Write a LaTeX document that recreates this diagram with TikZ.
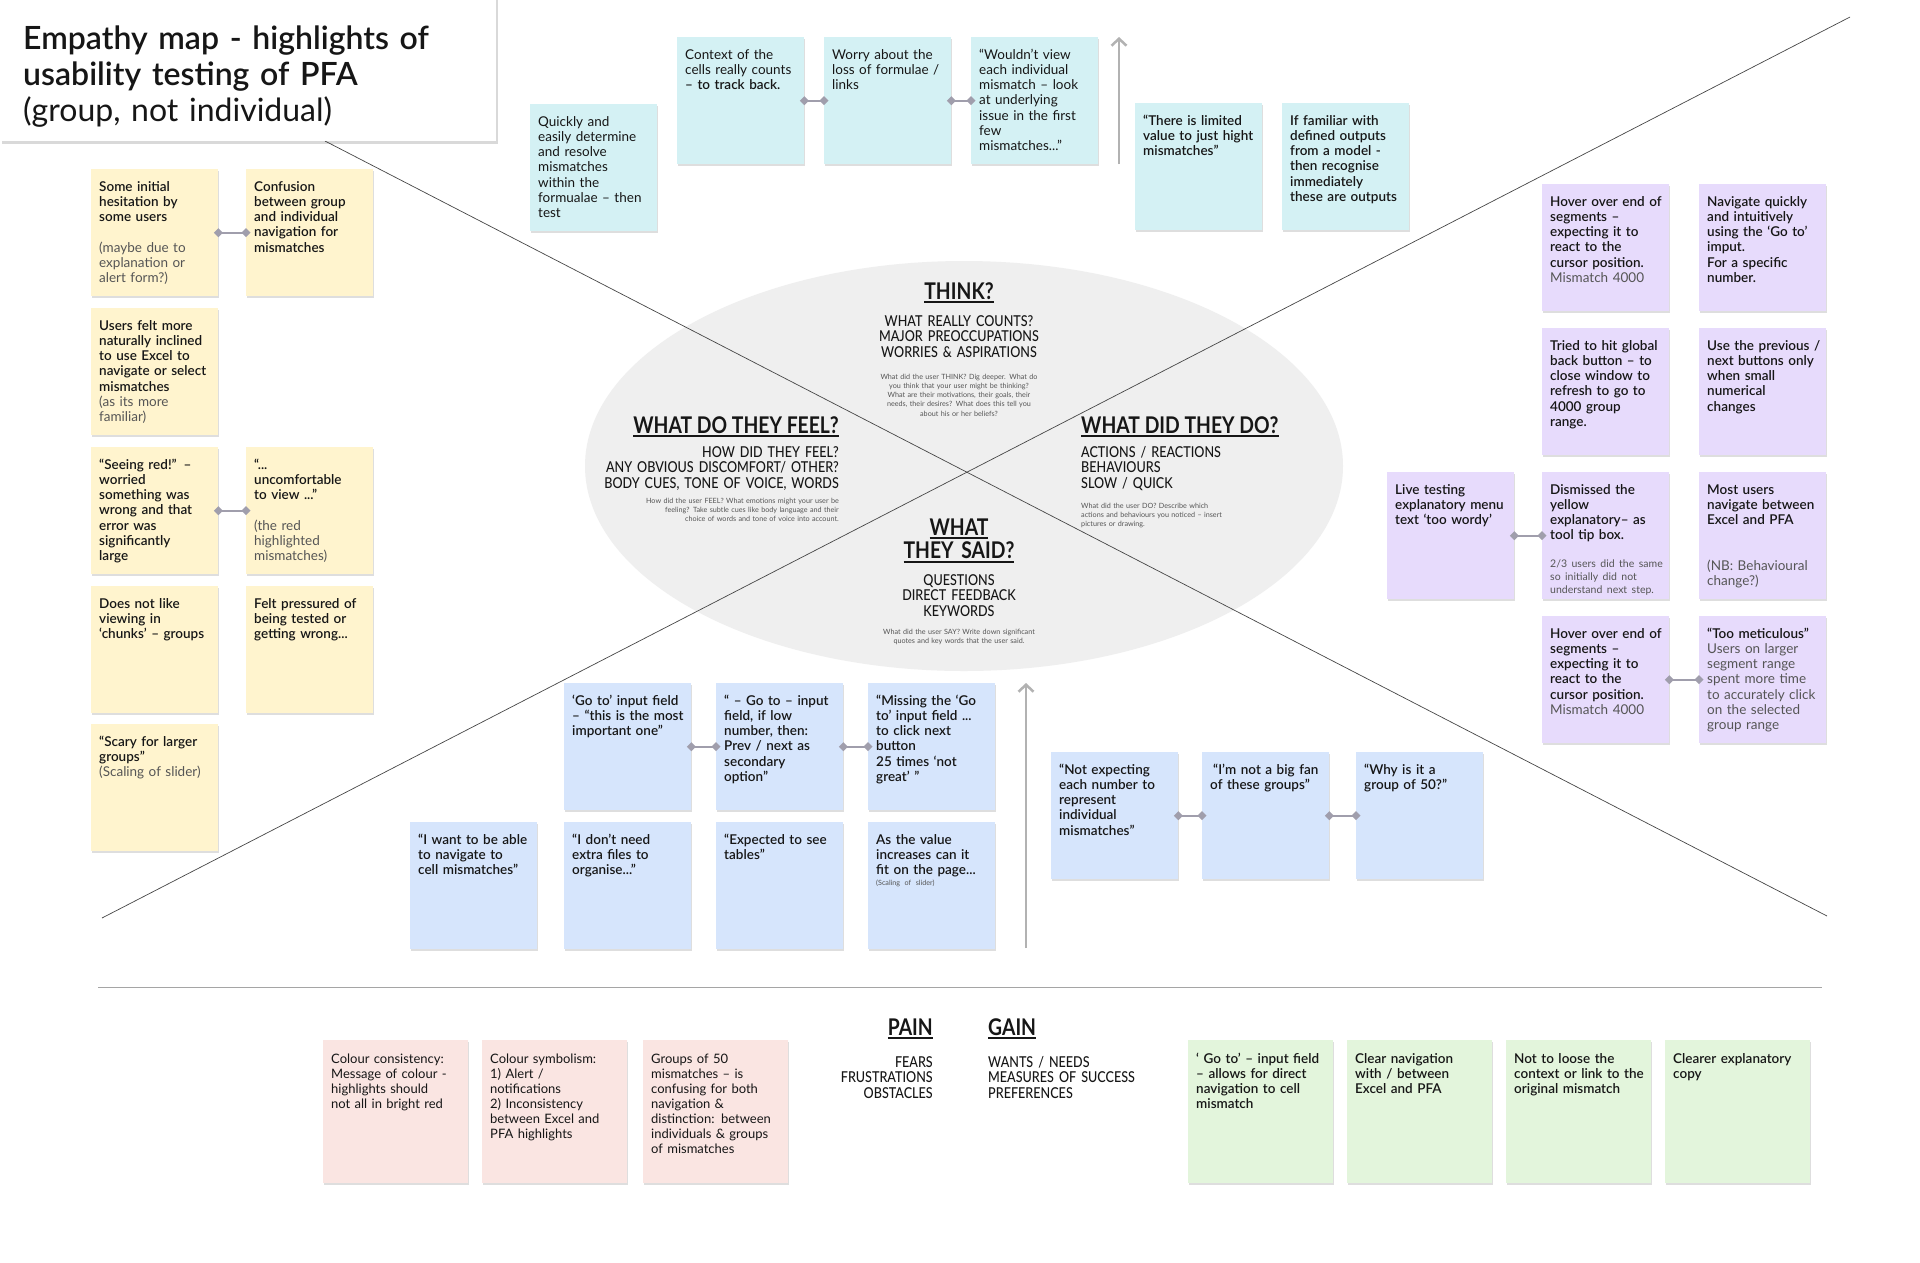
\documentclass[tikz,border=0pt]{standalone}
\usepackage{fontspec}
\IfFontExistsTF{Lato Semibold}
  {\setmainfont{Lato}[BoldFont={Lato Semibold}]}
  {\setmainfont{Lato}}
\newfontfamily\condfont{Lato}[FakeStretch=0.84]
\IfFontExistsTF{Lato Medium}
  {\newfontfamily\condmed{Lato Medium}[FakeStretch=0.84]}
  {\let\condmed\condfont}
\usepackage{xcolor}
\definecolor{mapYellow}{RGB}{255,244,206}
\definecolor{mapCyan}{RGB}{212,241,244}
\definecolor{mapPurple}{RGB}{231,219,252}
\definecolor{mapBlue}{RGB}{214,229,252}
\definecolor{mapPink}{RGB}{250,229,226}
\definecolor{mapGreen}{RGB}{227,245,220}
\definecolor{mapHub}{RGB}{239,239,239}
\definecolor{mapLink}{RGB}{160,158,172}
\definecolor{mapArrow}{RGB}{178,178,178}
\definecolor{mapAxis}{RGB}{70,70,70}
\definecolor{mapRule}{RGB}{165,165,165}
\definecolor{mapInk}{RGB}{22,22,22}
\definecolor{mapInk2}{RGB}{85,85,85}
\usepackage{tikz}
\usetikzlibrary{positioning,shapes.geometric,arrows.meta,shadows}
\newcommand\stkfont{\fontsize{13.5}{15.2}\selectfont}
\newcommand\lite[1]{{\mdseries\color{mapInk2}#1}}
\newcommand\smallnote[2]{\par\vspace{#1}{\fontsize{10.5}{12.8}\selectfont\mdseries\color{mapInk2}\parfillskip=0pt plus 1fil #2\par}}
\newcommand\tinynote[2]{\par\vspace{#1}{\fontsize{7.2}{9}\selectfont\mdseries\color{mapInk2}\mbox{#2}\par}}
\newcommand\hdul[1]{\leavevmode\setbox0\hbox{#1}\rlap{\rule[-4pt]{\wd0}{1.8pt}}\box0}
\tikzset{
  sticky/.style={rectangle,anchor=north west,fill=#1,inner sep=8pt,
    text width=111pt,text height=14pt,text depth=97pt,align=left,
    text=mapInk,font=\stkfont\bfseries,
    execute at begin node={\rightskip=-14pt plus 1fil\relax},
    drop shadow={shadow xshift=0.6pt,shadow yshift=-2.2pt,fill=black,opacity=0.13}},
  plainsticky/.style={sticky=#1,font=\stkfont},
  widesticky/.style={sticky=#1,text width=129pt,text height=15pt,text depth=112pt},
  plainwidesticky/.style={widesticky=#1,font=\fontsize{13}{15}\selectfont},
  link/.style={draw=mapLink,line width=2pt,
    {Turned Square[length=9pt,width=9pt]}-{Turned Square[length=9pt,width=9pt]},
    shorten <=-4.5pt,shorten >=-4.5pt},
  uparrow/.style={draw=mapArrow,line width=2.5pt,-{Straight Barb[length=7pt,width=15pt]}},
  axis/.style={draw=mapAxis,line width=0.7pt},
  hub/.style={ellipse,fill=mapHub,minimum width=758pt,minimum height=410pt,inner sep=0pt},
  head/.style={inner sep=0pt,text=mapInk,font=\condfont\bfseries\fontsize{23}{23.5}\selectfont},
  subhead/.style={inner sep=0pt,text=mapInk,font=\condmed\fontsize{15}{15.5}\selectfont},
  hint/.style={inner sep=0pt,text=mapInk2,font=\fontsize{7.2}{9.3}\selectfont}
}
\begin{document}
\begin{tikzpicture}[x=1pt,y=-1pt]
  \fill[white] (0,0) rectangle (1920,1262);
  \useasboundingbox (0,0) rectangle (1920,1262);

  % map background and axes
  \node[hub] (hub) at (964,466) {};
  \coordinate (nwEnd) at (325,141);
  \coordinate (seEnd) at (1827,916);
  \coordinate (swEnd) at (102,918);
  \coordinate (neEnd) at (1850,17);
  \draw[axis] (nwEnd) -- (seEnd);
  \draw[axis] (swEnd) -- (neEnd);
  \coordinate (ruleL) at (98,987);
  \coordinate (ruleR) at (1822,987);
  \draw[draw=mapRule,line width=0.8pt] (ruleL) -- (ruleR);

  % title
  \fill[white,drop shadow={shadow xshift=1.5pt,shadow yshift=-2.5pt,fill=black,opacity=0.15}]
    (0,-20) rectangle (496,141);
  \node[anchor=base west,inner sep=0pt,text width=470pt,align=left,text=mapInk,
    font=\fontsize{32}{36}\selectfont\bfseries] (title) at (23,49)
    {Empathy map - highlights of\\usability testing of PFA\\\mdseries(group, not individual)};

  % quadrant labels
  \node[head,anchor=base] (thinkHd) at (959,299) {\hdul{THINK?}};
  \node[subhead,anchor=base,text width=240pt,align=center] (thinkSub) at (959,326)
    {WHAT REALLY COUNTS?\\MAJOR PREOCCUPATIONS\\WORRIES \& ASPIRATIONS};
  \node[hint,anchor=base,text width=200pt,align=center] (thinkHint) at (959,379)
    {What did the user THINK? Dig deeper. What do\\you think that your user might be thinking?\\What are their motivations, their goals, their\\needs, their desires? What does this tell you\\about his or her beliefs?};
  \node[head,anchor=base east] (feelHd) at (839,433) {\hdul{WHAT DO THEY FEEL?}};
  \node[subhead,anchor=base east,text width=280pt,align=right] (feelSub) at (839,457)
    {HOW DID THEY FEEL?\\ANY OBVIOUS DISCOMFORT/ OTHER?\\BODY CUES, TONE OF VOICE, WORDS};
  \node[hint,anchor=base east,text width=240pt,align=right] (feelHint) at (839,503)
    {How did the user FEEL? What emotions might your user be\\feeling? Take subtle cues like body language and their\\choice of words and tone of voice into account.};
  \node[head,anchor=base west] (doHd) at (1081,433) {\hdul{WHAT DID THEY DO?}};
  \node[subhead,anchor=base west,text width=200pt,align=left] (doSub) at (1081,457)
    {ACTIONS / REACTIONS\\BEHAVIOURS\\SLOW / QUICK};
  \node[hint,anchor=base west,text width=200pt,align=left] (doHint) at (1081,508)
    {What did the user DO? Describe which\\actions and behaviours you noticed – insert\\pictures or drawing.};
  \node[head,anchor=base,text width=200pt,align=center] (saidHd) at (959,535)
    {\hdul{WHAT}\\\hdul{THEY SAID?}};
  \node[subhead,anchor=base,text width=200pt,align=center] (saidSub) at (959,585)
    {QUESTIONS\\DIRECT FEEDBACK\\KEYWORDS};
  \node[hint,anchor=base,text width=200pt,align=center] (saidHint) at (959,634)
    {What did the user SAY? Write down significant\\quotes and key words that the user said.};

  % feel
  \node[sticky=mapYellow] (y1) at (91,169)
    {Some initial\\hesitation by\\some users\\[15.2pt]\lite{(maybe due to\\explanation or\\alert form?)}};
  \node[sticky=mapYellow] (y2) at (246,169)
    {Confusion\\between group\\and individual\\navigation for\\mismatches};
  \node[sticky=mapYellow] (y3) at (91,308)
    {Users felt more\\naturally inclined\\to use Excel to\\navigate or select\\mismatches\\\lite{(as its more\\familiar)}};
  \node[sticky=mapYellow] (y4) at (91,447)
    {“Seeing red!” –\\worried\\something was\\wrong and that\\error was\\significantly\\large};
  \node[sticky=mapYellow] (y5) at (246,447)
    {“...\\uncomfortable\\to view ...”\\[15.2pt]\lite{(the red\\highlighted\\mismatches)}};
  \node[sticky=mapYellow] (y6) at (91,586)
    {Does not like\\viewing in\\‘chunks’ – groups};
  \node[sticky=mapYellow] (y7) at (246,586)
    {Felt pressured of\\being tested or\\getting wrong...};
  \node[sticky=mapYellow] (y8) at (91,724)
    {“Scary for larger\\groups”\\\lite{(Scaling of slider)}};

  % think
  \node[plainsticky=mapCyan] (c1) at (530,104)
    {Quickly and\\easily determine\\and resolve\\mismatches\\within the\\formualae – then\\test};
  \node[plainsticky=mapCyan] (c2) at (677,37)
    {Context of the\\cells really counts\\\textbf{– to track back.}};
  \node[plainsticky=mapCyan] (c3) at (824,37)
    {Worry about the\\loss of formulae /\\links};
  \node[plainsticky=mapCyan] (c4) at (971,37)
    {“Wouldn’t view\\each individual\\mismatch – look\\at underlying\\issue in the first\\few\\mismatches...”};
  \node[sticky=mapCyan] (c5) at (1135,103)
    {“There is limited\\value to just hight\\mismatches”};
  \node[sticky=mapCyan] (c6) at (1282,103)
    {If familiar with\\defined outputs\\from a model -\\then recognise\\immediately\\these are outputs};

  % do
  \node[sticky=mapPurple] (p1) at (1542,184)
    {Hover over end of\\segments –\\expecting it to\\react to the\\cursor position.\\\lite{Mismatch 4000}};
  \node[sticky=mapPurple] (p2) at (1699,184)
    {Navigate quickly\\and intuitively\\using the ‘Go to’\\imput.\\For a specific\\number.};
  \node[sticky=mapPurple] (p3) at (1542,328)
    {Tried to hit global\\back button – to\\close window to\\refresh to go to\\4000 group\\range.};
  \node[sticky=mapPurple] (p4) at (1699,328)
    {Use the previous /\\next buttons only\\when small\\numerical\\changes};
  \node[sticky=mapPurple] (p5) at (1387,472)
    {Live testing\\explanatory menu\\text ‘too wordy’};
  \node[sticky=mapPurple] (p6) at (1542,472)
    {Dismissed the\\yellow\\explanatory– as\\tool tip box.\smallnote{15pt}{2/3 users did the same\\so initially did not\\understand next step.}};
  \node[sticky=mapPurple] (p7) at (1699,472)
    {Most users\\navigate between\\Excel and PFA\\[30.4pt]\lite{(NB: Behavioural\\change?)}};
  \node[sticky=mapPurple] (p8) at (1542,616)
    {Hover over end of\\segments –\\expecting it to\\react to the\\cursor position.\\\lite{Mismatch 4000}};
  \node[sticky=mapPurple] (p9) at (1699,616)
    {“Too meticulous”\\\lite{Users on larger\\segment range\\spent more time\\to accurately click\\on the selected\\group range}};

  % said
  \node[sticky=mapBlue] (b1) at (564,683)
    {‘Go to’ input field\\– “this is the most\\important one”};
  \node[sticky=mapBlue] (b2) at (716,683)
    {“ – Go to – input\\field, if low\\number, then:\\Prev / next as\\secondary\\option”};
  \node[sticky=mapBlue] (b3) at (868,683)
    {“Missing the ‘Go\\to’ input field ...\\to click next\\button\\25 times ‘not\\great’ ”};
  \node[sticky=mapBlue] (b4) at (410,822)
    {“I want to be able\\to navigate to\\cell mismatches”};
  \node[sticky=mapBlue] (b5) at (564,822)
    {“I don’t need\\extra files to\\organise...”};
  \node[sticky=mapBlue] (b6) at (716,822)
    {“Expected to see\\tables”};
  \node[sticky=mapBlue] (b7) at (868,822)
    {As the value\\increases can it\\fit on the page...\tinynote{2pt}{(Scaling of slider)}};
  \node[sticky=mapBlue] (b8) at (1051,752)
    {“Not expecting\\each number to\\represent\\individual\\mismatches”};
  \node[sticky=mapBlue] (b9) at (1202,752)
    {\hspace*{3pt}“I’m not a big fan\\of these groups”};
  \node[sticky=mapBlue] (b10) at (1356,752)
    {“Why is it a\\group of 50?”};

  % pain / gain
  \node[head,anchor=base east] (painHd) at (933,1035) {\hdul{PAIN}};
  \node[subhead,anchor=base east,text width=150pt,align=right] (painSub) at (933,1067)
    {FEARS\\FRUSTRATIONS\\OBSTACLES};
  \node[head,anchor=base west] (gainHd) at (988,1035) {\hdul{GAIN}};
  \node[subhead,anchor=base west,text width=180pt,align=left] (gainSub) at (988,1067)
    {WANTS / NEEDS\\MEASURES OF SUCCESS\\PREFERENCES};
  \node[plainwidesticky=mapPink] (k1) at (323,1040)
    {Colour consistency:\\Message of colour -\\highlights should\\not all in bright red};
  \node[plainwidesticky=mapPink] (k2) at (482,1040)
    {Colour symbolism:\\1) Alert /\\notifications\\2) Inconsistency\\between Excel and\\PFA highlights};
  \node[plainwidesticky=mapPink] (k3) at (643,1040)
    {Groups of 50\\mismatches – is\\confusing for both\\navigation \&\\distinction: between\\individuals \& groups\\of mismatches};
  \node[widesticky=mapGreen] (g1) at (1188,1040)
    {‘ Go to’ – input field\\– allows for direct\\navigation to cell\\mismatch};
  \node[widesticky=mapGreen] (g2) at (1347,1040)
    {Clear navigation\\with / between\\Excel and PFA};
  \node[widesticky=mapGreen] (g3) at (1506,1040)
    {Not to loose the\\context or link to the\\original mismatch};
  \node[widesticky=mapGreen] (g4) at (1665,1040)
    {Clearer explanatory\\copy};

  % links between related notes
  \draw[link] (y1) -- (y2);
  \draw[link] (y4) -- (y5);
  \draw[link] (c2) -- (c3);
  \draw[link] (c3) -- (c4);
  \draw[link] (p5) -- (p6);
  \draw[link] (p8) -- (p9);
  \draw[link] (b1) -- (b2);
  \draw[link] (b2) -- (b3);
  \draw[link] (b8) -- (b9);
  \draw[link] (b9) -- (b10);

  % arrows
  \coordinate (thinkFoot) at (1119,164);
  \coordinate (thinkTip) at (1119,37);
  \draw[uparrow] (thinkFoot) -- (thinkTip);
  \coordinate (saidFoot) at (1026,948);
  \coordinate (saidTip) at (1026,683);
  \draw[uparrow] (saidFoot) -- (saidTip);
\end{tikzpicture}
\end{document}
